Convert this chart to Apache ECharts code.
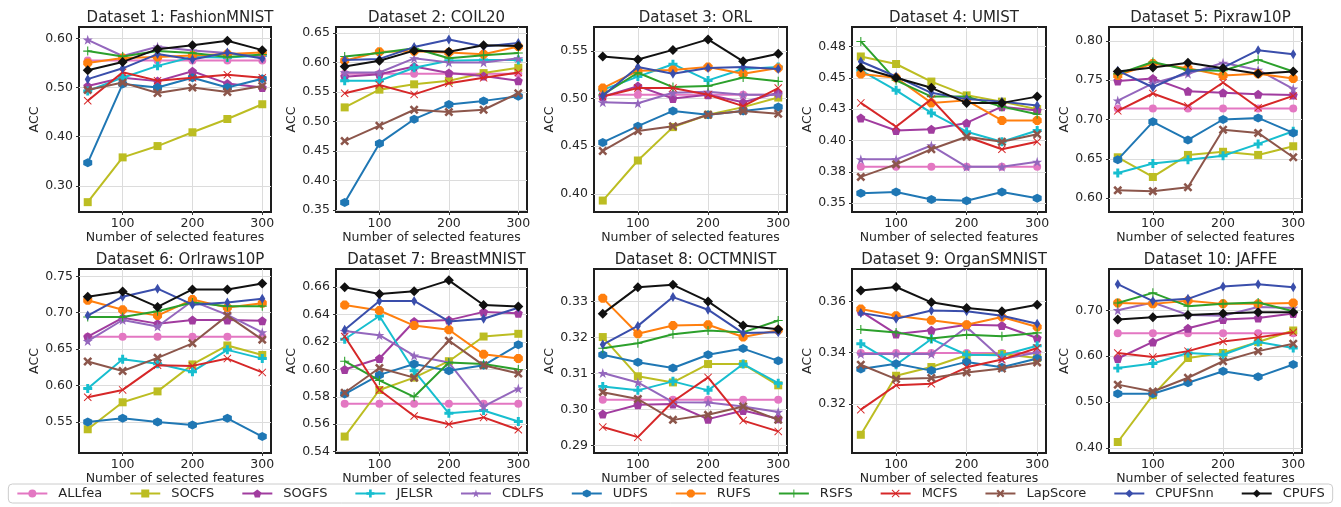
<!DOCTYPE html>
<html>
<head>
<meta charset="utf-8">
<title>ACC vs number of selected features</title>
<script src="https://cdn.jsdelivr.net/npm/echarts@6/dist/echarts.min.js"></script>
<style>
  html, body { margin: 0; padding: 0; background: #fff; }
  #chart { width: 1341px; height: 507px; }
</style>
</head>
<body>
<div id="chart"></div>
<script>
  // x values shared by every panel
  const features = [50, 100, 150, 200, 250, 300]
  const xTicks = [100, 200, 300]

  const methods = ['ALLfea', 'SOCFS', 'SOGFS', 'JELSR', 'CDLFS', 'UDFS',
    'RUFS', 'RSFS', 'MCFS', 'LapScore', 'CPUFSnn', 'CPUFS']

  const titles = ['Dataset 1: FashionMNIST', 'Dataset 2: COIL20', 'Dataset 3: ORL',
    'Dataset 4: UMIST', 'Dataset 5: Pixraw10P', 'Dataset 6: Orlraws10P',
    'Dataset 7: BreastMNIST', 'Dataset 8: OCTMNIST', 'Dataset 9: OrganSMNIST',
    'Dataset 10: JAFFE']

  // one row per method, same order as `methods`
  const fashionMNIST = [
    [0.555, 0.555, 0.555, 0.555, 0.555, 0.555],
    [0.267, 0.358, 0.381, 0.409, 0.436, 0.466],
    [0.503, 0.520, 0.513, 0.533, 0.508, 0.500],
    [0.493, 0.520, 0.544, 0.562, 0.561, 0.565],
    [0.597, 0.564, 0.583, 0.575, 0.570, 0.562],
    [0.347, 0.507, 0.500, 0.520, 0.500, 0.518],
    [0.550, 0.560, 0.562, 0.565, 0.568, 0.571],
    [0.574, 0.563, 0.574, 0.570, 0.562, 0.567],
    [0.473, 0.531, 0.514, 0.520, 0.526, 0.520],
    [0.495, 0.510, 0.489, 0.500, 0.491, 0.503],
    [0.517, 0.539, 0.568, 0.557, 0.571, 0.559],
    [0.535, 0.552, 0.578, 0.586, 0.595, 0.576]
  ]
  const coil20 = [
    [0.581, 0.581, 0.581, 0.581, 0.581, 0.581],
    [0.524, 0.554, 0.563, 0.569, 0.582, 0.591],
    [0.576, 0.580, 0.593, 0.582, 0.577, 0.569],
    [0.569, 0.569, 0.591, 0.603, 0.604, 0.604],
    [0.583, 0.583, 0.607, 0.600, 0.600, 0.607],
    [0.363, 0.463, 0.504, 0.529, 0.535, 0.543],
    [0.603, 0.618, 0.619, 0.617, 0.614, 0.627],
    [0.610, 0.616, 0.624, 0.607, 0.612, 0.616],
    [0.548, 0.562, 0.546, 0.565, 0.574, 0.583],
    [0.467, 0.493, 0.520, 0.516, 0.520, 0.548],
    [0.604, 0.606, 0.626, 0.639, 0.627, 0.633],
    [0.593, 0.603, 0.620, 0.618, 0.629, 0.628]
  ]
  const orl = [
    [0.504, 0.504, 0.504, 0.504, 0.504, 0.504],
    [0.393, 0.435, 0.470, 0.483, 0.491, 0.501],
    [0.502, 0.513, 0.500, 0.504, 0.496, 0.506],
    [0.509, 0.523, 0.536, 0.519, 0.531, 0.533],
    [0.496, 0.495, 0.506, 0.507, 0.504, 0.504],
    [0.454, 0.471, 0.487, 0.483, 0.487, 0.491],
    [0.511, 0.529, 0.530, 0.533, 0.526, 0.532],
    [0.504, 0.527, 0.512, 0.513, 0.522, 0.518],
    [0.502, 0.511, 0.511, 0.504, 0.492, 0.511],
    [0.445, 0.466, 0.471, 0.483, 0.487, 0.484],
    [0.503, 0.533, 0.526, 0.532, 0.533, 0.531],
    [0.544, 0.541, 0.551, 0.562, 0.539, 0.547]
  ]
  const umist = [
    [0.379, 0.379, 0.379, 0.379, 0.379, 0.379],
    [0.467, 0.461, 0.447, 0.436, 0.431, 0.425],
    [0.418, 0.408, 0.409, 0.414, 0.427, 0.424],
    [0.456, 0.440, 0.422, 0.407, 0.399, 0.408],
    [0.385, 0.385, 0.396, 0.379, 0.379, 0.383],
    [0.358, 0.359, 0.353, 0.352, 0.359, 0.354],
    [0.453, 0.450, 0.430, 0.432, 0.416, 0.416],
    [0.479, 0.448, 0.435, 0.435, 0.427, 0.421],
    [0.430, 0.411, 0.433, 0.403, 0.393, 0.399],
    [0.371, 0.381, 0.393, 0.403, 0.399, 0.405],
    [0.463, 0.451, 0.438, 0.433, 0.431, 0.428],
    [0.458, 0.450, 0.442, 0.430, 0.430, 0.435]
  ]
  const pixraw10P = [
    [0.714, 0.714, 0.714, 0.714, 0.714, 0.714],
    [0.652, 0.627, 0.655, 0.659, 0.655, 0.666],
    [0.749, 0.752, 0.736, 0.734, 0.732, 0.731],
    [0.632, 0.644, 0.649, 0.654, 0.669, 0.685],
    [0.724, 0.746, 0.758, 0.772, 0.763, 0.739],
    [0.649, 0.697, 0.674, 0.700, 0.702, 0.683],
    [0.756, 0.771, 0.765, 0.756, 0.758, 0.752],
    [0.758, 0.773, 0.763, 0.762, 0.776, 0.761],
    [0.711, 0.733, 0.717, 0.747, 0.715, 0.730],
    [0.610, 0.609, 0.614, 0.687, 0.683, 0.652],
    [0.762, 0.741, 0.761, 0.766, 0.788, 0.783],
    [0.761, 0.766, 0.772, 0.765, 0.758, 0.761]
  ]
  const orlraws10P = [
    [0.667, 0.667, 0.667, 0.667, 0.667, 0.667],
    [0.540, 0.577, 0.592, 0.629, 0.655, 0.642],
    [0.667, 0.693, 0.685, 0.690, 0.690, 0.689],
    [0.596, 0.636, 0.630, 0.619, 0.649, 0.637],
    [0.661, 0.690, 0.681, 0.716, 0.697, 0.673],
    [0.550, 0.555, 0.550, 0.546, 0.555, 0.530],
    [0.717, 0.704, 0.696, 0.718, 0.707, 0.713],
    [0.694, 0.694, 0.702, 0.714, 0.709, 0.709],
    [0.584, 0.594, 0.628, 0.627, 0.637, 0.618],
    [0.633, 0.620, 0.638, 0.658, 0.696, 0.663],
    [0.696, 0.722, 0.733, 0.711, 0.714, 0.719],
    [0.722, 0.729, 0.708, 0.732, 0.732, 0.740]
  ]
  const breastMNIST = [
    [0.575, 0.575, 0.575, 0.575, 0.575, 0.575],
    [0.551, 0.585, 0.594, 0.606, 0.624, 0.626],
    [0.600, 0.608, 0.635, 0.636, 0.642, 0.641],
    [0.622, 0.639, 0.599, 0.568, 0.570, 0.562],
    [0.628, 0.625, 0.610, 0.605, 0.573, 0.586],
    [0.582, 0.596, 0.604, 0.599, 0.603, 0.618],
    [0.647, 0.643, 0.632, 0.629, 0.611, 0.608],
    [0.606, 0.592, 0.580, 0.605, 0.604, 0.600],
    [0.624, 0.585, 0.566, 0.560, 0.565, 0.556],
    [0.583, 0.601, 0.594, 0.621, 0.603, 0.597],
    [0.629, 0.650, 0.650, 0.635, 0.637, 0.645],
    [0.660, 0.655, 0.657, 0.665, 0.647, 0.646]
  ]
  const octMNIST = [
    [0.3027, 0.3027, 0.3027, 0.3027, 0.3027, 0.3027],
    [0.3201, 0.3092, 0.3075, 0.3126, 0.3126, 0.3067],
    [0.2987, 0.3013, 0.3015, 0.2973, 0.2997, 0.2974],
    [0.3064, 0.3053, 0.3078, 0.3053, 0.3126, 0.3073],
    [0.3101, 0.3075, 0.3020, 0.3019, 0.3008, 0.2993],
    [0.3152, 0.3131, 0.3115, 0.3152, 0.3169, 0.3135],
    [0.3309, 0.3210, 0.3233, 0.3235, 0.3201, 0.3220],
    [0.3170, 0.3184, 0.3209, 0.3219, 0.3214, 0.3247],
    [0.2951, 0.2923, 0.3022, 0.3089, 0.2969, 0.2939],
    [0.3048, 0.3029, 0.2971, 0.2985, 0.3008, 0.2971],
    [0.3180, 0.3232, 0.3312, 0.3277, 0.3212, 0.3214],
    [0.3266, 0.3339, 0.3346, 0.3300, 0.3233, 0.3223]
  ]
  const organSMNIST = [
    [0.3399, 0.3399, 0.3399, 0.3399, 0.3399, 0.3399],
    [0.3080, 0.3310, 0.3344, 0.3390, 0.3395, 0.3379],
    [0.3561, 0.3473, 0.3487, 0.3509, 0.3506, 0.3457],
    [0.3435, 0.3353, 0.3453, 0.3392, 0.3390, 0.3427],
    [0.3395, 0.3395, 0.3395, 0.3500, 0.3375, 0.3401],
    [0.3336, 0.3357, 0.3330, 0.3364, 0.3343, 0.3377],
    [0.3570, 0.3544, 0.3526, 0.3509, 0.3539, 0.3500],
    [0.3490, 0.3479, 0.3455, 0.3470, 0.3464, 0.3477],
    [0.3178, 0.3273, 0.3279, 0.3343, 0.3373, 0.3418],
    [0.3353, 0.3297, 0.3301, 0.3323, 0.3338, 0.3362],
    [0.3555, 0.3532, 0.3564, 0.3561, 0.3544, 0.3513],
    [0.3642, 0.3656, 0.3596, 0.3574, 0.3561, 0.3587]
  ]
  const jaffe = [
    [0.650, 0.650, 0.650, 0.650, 0.650, 0.650],
    [0.413, 0.515, 0.596, 0.607, 0.631, 0.656],
    [0.595, 0.631, 0.661, 0.680, 0.683, 0.693],
    [0.574, 0.584, 0.607, 0.603, 0.631, 0.618],
    [0.700, 0.717, 0.690, 0.688, 0.707, 0.705],
    [0.518, 0.518, 0.542, 0.567, 0.555, 0.582],
    [0.716, 0.714, 0.721, 0.714, 0.714, 0.716],
    [0.716, 0.738, 0.709, 0.714, 0.717, 0.698],
    [0.607, 0.598, 0.611, 0.632, 0.641, 0.652],
    [0.538, 0.523, 0.553, 0.589, 0.611, 0.627],
    [0.757, 0.720, 0.725, 0.752, 0.757, 0.750],
    [0.680, 0.685, 0.690, 0.693, 0.696, 0.696]
  ]

  // y tick positions and the text printed at them
  const yTicks = [
    [0.30, 0.40, 0.50, 0.60],
    [0.35, 0.40, 0.45, 0.50, 0.55, 0.60, 0.65],
    [0.40, 0.45, 0.50, 0.55],
    [0.35, 0.375, 0.40, 0.425, 0.45, 0.475],
    [0.60, 0.65, 0.70, 0.75, 0.80],
    [0.55, 0.60, 0.65, 0.70, 0.75],
    [0.54, 0.56, 0.58, 0.60, 0.62, 0.64, 0.66],
    [0.29, 0.30, 0.31, 0.32, 0.33],
    [0.32, 0.34, 0.36],
    [0.40, 0.50, 0.60, 0.70]
  ]
  const umistTickLabels = ['0.35', '0.38', '0.40', '0.43', '0.45', '0.48']

  const datasets = [fashionMNIST, coil20, orl, umist, pixraw10P,
    orlraws10P, breastMNIST, octMNIST, organSMNIST, jaffe]

  // visible y range of each panel
  const yRange = [
    [0.247, 0.623], [0.347, 0.660], [0.381, 0.575], [0.343, 0.4905], [0.5825, 0.8175],
    [0.5074, 0.760], [0.539, 0.6733], [0.2879, 0.339], [0.3009, 0.3726], [0.389, 0.790]
  ]

  const colors = ['#e377c2', '#bcbd22', '#a13c9f', '#17becf', '#9467bd', '#1f77b4',
    '#ff7f0e', '#2ca02c', '#d62728', '#8c564b', '#3a4eab', '#111111']

  const pentagon = 'path://M0,-1 L0.951,-0.309 L0.588,0.809 L-0.588,0.809 L-0.951,-0.309 Z'
  const hexagon = 'path://M0,-1 L0.866,-0.5 L0.866,0.5 L0,1 L-0.866,0.5 L-0.866,-0.5 Z'
  const octagon = 'path://M-0.414,-1 L0.414,-1 L1,-0.414 L1,0.414 L0.414,1 L-0.414,1 L-1,0.414 L-1,-0.414 Z'
  const star = 'path://M0,-1 L0.2245,-0.309 L0.951,-0.309 L0.363,0.118 L0.588,0.809 L0,0.382 L-0.588,0.809 L-0.363,0.118 L-0.951,-0.309 L-0.2245,-0.309 Z'
  const plusFilled = 'path://M-0.33,-1 L0.33,-1 L0.33,-0.33 L1,-0.33 L1,0.33 L0.33,0.33 L0.33,1 L-0.33,1 L-0.33,0.33 L-1,0.33 L-1,-0.33 L-0.33,-0.33 Z'
  const plusThin = 'path://M-0.12,-1 L0.12,-1 L0.12,-0.12 L1,-0.12 L1,0.12 L0.12,0.12 L0.12,1 L-0.12,1 L-0.12,0.12 L-1,0.12 L-1,-0.12 L-0.12,-0.12 Z'
  const crossThin = 'path://M-1,-0.83 L-0.83,-1 L0,-0.17 L0.83,-1 L1,-0.83 L0.17,0 L1,0.83 L0.83,1 L0,0.17 L-0.83,1 L-1,0.83 L-0.17,0 Z'
  const crossFilled = 'path://M-1,-0.6 L-0.6,-1 L0,-0.4 L0.6,-1 L1,-0.6 L0.4,0 L1,0.6 L0.6,1 L0,0.4 L-0.6,1 L-1,0.6 L-0.4,0 Z'

  const symbols = ['circle', 'rect', pentagon, plusFilled, star, hexagon,
    octagon, plusThin, crossThin, crossFilled, 'diamond', 'diamond']
  const symbolSizes = [8, 8, 9, 9, 10, 9, 9, 9, 8, 9, [6, 10], 10]

  // panel boxes
  const lefts = [79, 336, 594, 852, 1109]
  const widths = [192, 191, 193, 194, 193]
  const tops = [27, 269]
  const heights = [185, 184]

  const font = 'DejaVu Sans'
  const textColor = '#262626'

  const grid = [], xAxis = [], yAxis = [], title = [], series = []

  datasets.forEach((rows, i) => {
    const col = i % 5
    const row = Math.floor(i / 5)

    grid.push({
      left: lefts[col], top: tops[row], width: widths[col], height: heights[row],
      show: true, borderColor: '#1e1e1e', borderWidth: 2, backgroundColor: '#fff'
    })

    title.push({
      text: titles[i],
      left: lefts[col] + widths[col] / 2,
      top: tops[row] - 21,
      textAlign: 'center',
      textStyle: { fontFamily: font, fontSize: 15, fontWeight: 'normal', color: textColor }
    })

    xAxis.push({
      type: 'value', gridIndex: i, min: 37.5, max: 312.5,
      name: 'Number of selected features', nameLocation: 'middle', nameGap: 17,
      nameTextStyle: { fontFamily: font, fontSize: 12.5, color: textColor },
      axisLine: { show: false },
      axisTick: { show: true, length: 3, customValues: xTicks, lineStyle: { color: '#333' } },
      axisLabel: { customValues: xTicks, fontFamily: font, fontSize: 12.5, color: textColor, margin: 5 },
      splitLine: { show: true, lineStyle: { color: '#dcdcdc', width: 1 } }
    })

    const ticks = yTicks[i]
    yAxis.push({
      type: 'value', gridIndex: i, min: yRange[i][0], max: yRange[i][1],
      name: 'ACC', nameLocation: 'middle', nameGap: 35,
      nameTextStyle: { fontFamily: font, fontSize: 12.5, color: textColor },
      axisLine: { show: false },
      axisTick: { show: true, length: 3, customValues: ticks, lineStyle: { color: '#333' } },
      axisLabel: {
        customValues: ticks, fontFamily: font, fontSize: 12.5, color: textColor, margin: 6,
        formatter: v => {
          if (i === 3) {
            const k = ticks.findIndex(t => Math.abs(t - v) < 1e-6)
            return k >= 0 ? umistTickLabels[k] : ''
          }
          return v.toFixed(2)
        }
      },
      splitLine: { show: true, lineStyle: { color: '#dcdcdc', width: 1 } }
    })

    methods.forEach((m, k) => {
      series.push({
        name: m, type: 'line', xAxisIndex: i, yAxisIndex: i,
        data: features.map((f, j) => [f, rows[k][j]]),
        symbol: symbols[k], symbolSize: symbolSizes[k],
        lineStyle: { width: 2, color: colors[k] },
        itemStyle: { color: colors[k] },
        z: 2 + k * 0.01,
        animation: false
      })
    })
  })

  const chart = echarts.init(document.getElementById('chart'))
  chart.setOption({
    animation: false,
    textStyle: { fontFamily: font },
    color: colors,
    title, grid, xAxis, yAxis, series,
    legend: {
      data: methods, left: 'center', top: 484,
      itemWidth: 30, itemHeight: 10, itemGap: 27,
      padding: [3, 8], borderColor: '#cccccc', borderWidth: 1, borderRadius: 4,
      textStyle: { fontFamily: font, fontSize: 13, color: textColor, padding: [0, 0, 0, 6] }
    }
  })
</script>
</body>
</html>
